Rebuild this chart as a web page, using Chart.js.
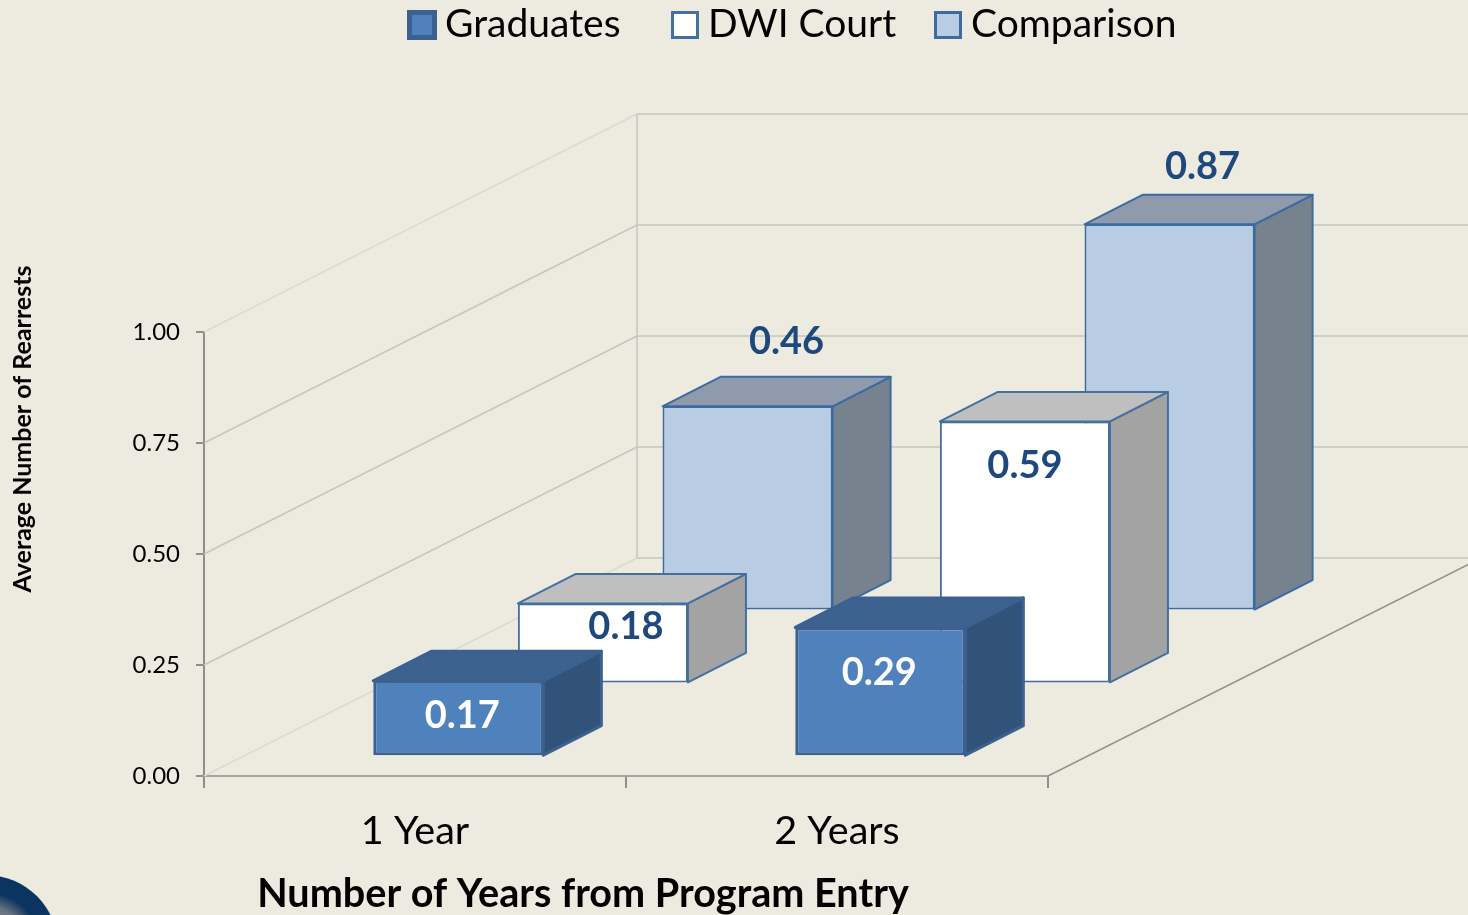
<!DOCTYPE html>
<html>
<head>
<meta charset="utf-8">
<title>Average Number of Rearrests</title>
<script src="https://cdn.jsdelivr.net/npm/chart.js@4"></script>
<style>
  html, body { margin: 0; padding: 0; background: #edebe0; overflow: hidden; }
  canvas { display: block; }
</style>
</head>
<body>
<canvas id="myChart" width="1468" height="915"></canvas>
<script>
const categories = ['1 Year', '2 Years'];
const seriesNames = ['Graduates', 'DWI Court', 'Comparison'];
const graduates = [0.17, 0.29];
const dwiCourt = [0.18, 0.59];
const comparison = [0.46, 0.87];
const yTicks = [0, 0.25, 0.5, 0.75, 1];

const yTitle = 'Average Number of Rearrests';
const xTitle = 'Number of Years from Program Entry';

// look of each series: front, top, side, border, label colour
const looks = [
  { front: '#4f81bd', top: '#3d628f', side: '#325379', border: '#3a6190', label: '#ffffff', edge: 3 },
  { front: '#ffffff', top: '#bfbfbf', side: '#a3a3a3', border: '#44709f', label: '#1f497d', edge: 2 },
  { front: '#b8cce4', top: '#8f9bad', side: '#76838f', border: '#3d6aa0', label: '#1f497d', edge: 2 }
];

// the 3d box
const wallX = 433, wallY = 218;          // floor depth, front edge to back wall
const depths = [0.1, 0.434, 0.768];      // where each series row stands on the floor
const floorDrop = 2;                     // bars sit a little lower than the floor lines
const boxX = 58, boxY = 29.5;            // depth of one bar
// label shift from top centre of the front face, per series and category
const labelShift = [
  [[4, 35], [-1, 45]],
  [[23, 23], [0, 44]],
  [[39, -65], [33, -58]]
];
const legendX = [408, 671, 934];

function line (ctx, x1, y1, x2, y2, color, width) {
  ctx.beginPath();
  ctx.moveTo(x1, y1);
  ctx.lineTo(x2, y2);
  ctx.strokeStyle = color;
  ctx.lineWidth = width || 1.5;
  ctx.stroke();
}

function poly (ctx, pts, fill, stroke, width) {
  ctx.beginPath();
  pts.forEach((p, i) => i ? ctx.lineTo(p[0], p[1]) : ctx.moveTo(p[0], p[1]));
  ctx.closePath();
  ctx.fillStyle = fill;
  ctx.fill();
  ctx.strokeStyle = stroke;
  ctx.lineWidth = width;
  ctx.lineJoin = 'round';
  ctx.stroke();
}

const scene = {
  id: 'scene',
  beforeDraw (chart) {
    const ctx = chart.ctx;
    ctx.save();
    ctx.fillStyle = '#edebe0';
    ctx.fillRect(0, 0, chart.width, chart.height);
    // logo corner
    const g = ctx.createRadialGradient(-14, 947, 10, -14, 947, 72);
    g.addColorStop(0, '#9a9a9a');
    g.addColorStop(0.5, '#67727f');
    g.addColorStop(0.72, '#0b3560');
    g.addColorStop(1, '#0b3560');
    ctx.beginPath();
    ctx.arc(-14, 947, 72, 0, Math.PI * 2);
    ctx.fillStyle = g;
    ctx.fill();
    ctx.restore();
  },
  beforeDatasetsDraw (chart) {
    const ctx = chart.ctx, x = chart.scales.x, y = chart.scales.y;
    const left = x.left, right = x.right;
    ctx.save();
    yTicks.forEach((v, i) => {
      const py = y.getPixelForValue(v);
      line(ctx, left, py, left + wallX, py - wallY, i === 0 || i === yTicks.length - 1 ? '#dcdbd2' : '#c6c6bf');
      line(ctx, left + wallX, py - wallY, chart.width, py - wallY, '#c6c6bf');
    });
    line(ctx, left + wallX, y.getPixelForValue(1) - wallY, left + wallX, y.getPixelForValue(0) - wallY, '#c6c6bf');
    line(ctx, right, y.getPixelForValue(0), right + wallX, y.getPixelForValue(0) - wallY, '#93938b');
    ctx.restore();
  },
  // each row of bars is moved back along the floor, the bars themselves come from chart.js
  beforeDatasetDraw (chart, args) {
    const ctx = chart.ctx, i = args.index, look = looks[i];
    const dx = wallX * depths[i], dy = floorDrop - wallY * depths[i];
    ctx.save();
    ctx.translate(dx, dy);
    chart.getDatasetMeta(i).data.forEach(bar => {
      const l = bar.x - bar.width / 2, r = bar.x + bar.width / 2;
      poly(ctx, [[r, bar.y], [r + boxX, bar.y - boxY], [r + boxX, bar.base - boxY], [r, bar.base]], look.side, look.border, look.edge);
      poly(ctx, [[l, bar.y], [l + boxX, bar.y - boxY], [r + boxX, bar.y - boxY], [r, bar.y]], look.top, look.border, look.edge);
    });
  },
  afterDatasetDraw (chart) {
    chart.ctx.restore();
  },
  afterDatasetsDraw (chart) {
    const ctx = chart.ctx;
    ctx.save();
    ctx.textAlign = 'center';
    ctx.textBaseline = 'middle';
    ctx.font = 'bold 38px Lato';
    chart.data.datasets.forEach((ds, i) => {
      chart.getDatasetMeta(i).data.forEach((bar, c) => {
        const sx = labelShift[i][c][0], sy = labelShift[i][c][1];
        ctx.fillStyle = looks[i].label;
        ctx.fillText(ds.data[c].toFixed(2), bar.x + wallX * depths[i] + sx, bar.y + floorDrop - wallY * depths[i] + sy);
      });
    });
    ctx.restore();
  },
  afterDraw (chart) {
    const ctx = chart.ctx;
    ctx.save();
    ctx.fillStyle = '#000';
    ctx.textBaseline = 'middle';

    // axis titles sit off centre in the original
    ctx.textAlign = 'center';
    ctx.font = 'bold 39.6px Lato';
    ctx.fillText(xTitle, 583, 894);
    ctx.save();
    ctx.translate(23, 429);
    ctx.rotate(-Math.PI / 2);
    ctx.font = 'bold 25px Lato';
    ctx.fillText(yTitle, 0, 0);
    ctx.restore();

    // legend
    ctx.textAlign = 'left';
    ctx.font = '39px Lato';
    seriesNames.forEach((name, i) => {
      const look = looks[i], lx = legendX[i];
      ctx.fillStyle = look.front;
      ctx.fillRect(lx + 1, 12, 26, 26);
      ctx.strokeStyle = look.border;
      ctx.lineWidth = i === 0 ? 5 : 3;
      ctx.strokeRect(lx + 1.5, 12.5, 25, 25);
      ctx.fillStyle = '#000';
      ctx.fillText(name, lx + 37, 24);
    });
    ctx.restore();
  }
};

new Chart(document.getElementById('myChart').getContext('2d'), {
  type: 'bar',
  data: {
    labels: categories,
    datasets: [graduates, dwiCourt, comparison].map((values, i) => ({
      label: seriesNames[i],
      data: values,
      backgroundColor: looks[i].front,
      borderColor: looks[i].border,
      borderWidth: looks[i].edge,
      borderSkipped: false,
      clip: false
    }))
  },
  options: {
    responsive: false,
    animation: false,
    events: [],
    layout: {
      autoPadding: false,
      padding: { top: 332, right: 420, left: 0, bottom: 0 }
    },
    plugins: {
      legend: { display: false },
      tooltip: { enabled: false }
    },
    scales: {
      x: {
        stacked: false,
        afterFit: s => { s.height = 139; },
        grid: { drawOnChartArea: false, color: '#8f8f8a', lineWidth: 2, tickLength: 12 },
        border: { color: '#a5a59e', width: 2 },
        ticks: { color: '#000', padding: 19, maxRotation: 0, font: { family: 'Lato', size: 39.6 } }
      },
      y: {
        min: 0,
        max: 1,
        afterFit: s => { s.width = 204; },
        afterBuildTicks: s => { s.ticks = yTicks.map(v => ({ value: v })); },
        grid: { drawOnChartArea: false, color: '#8f8f8a', lineWidth: 2, tickLength: 8 },
        border: { color: '#8f8f8a', width: 2 },
        ticks: { color: '#000', padding: 16, callback: v => v.toFixed(2), font: { family: 'Lato', size: 24 } }
      }
    },
    datasets: { bar: { categoryPercentage: 1, barPercentage: 0.403, grouped: false } }
  },
  plugins: [scene]
});
</script>
</body>
</html>
